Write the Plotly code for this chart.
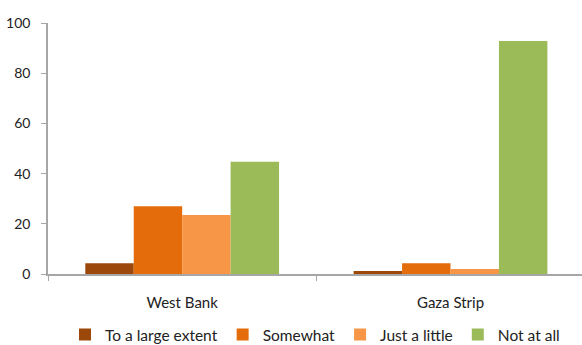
import plotly.graph_objects as go

categories = ["West Bank", "Gaza Strip"]
series_names = ["To a large extent", "Somewhat", "Just a little", "Not at all"]
large_extent = [4.3, 1.2]
somewhat = [27.0, 4.3]
just_a_little = [23.5, 2.0]
not_at_all = [44.7, 92.8]
colors = ["#9C480A", "#E46C0A", "#F79646", "#9BBB59"]
y_ticks = [0, 20, 40, 60, 80, 100]

font_family = "Lato, Open Sans, sans-serif"

fig = go.Figure()
for name, vals, col in zip(series_names, [large_extent, somewhat, just_a_little, not_at_all], colors):
    fig.add_trace(go.Bar(
        x=categories, y=vals, name=name,
        marker=dict(color=col, line=dict(width=0)),
    ))

fig.update_layout(
    width=582, height=345,
    margin=dict(l=48, r=0, t=23, b=71, autoexpand=False),
    barmode="group", bargap=0.278, bargroupgap=0,
    plot_bgcolor="white", paper_bgcolor="white",
    font=dict(family=font_family, size=14, color="#222222"),
    showlegend=True,
    legend=dict(orientation="h", x=0.5, xanchor="center", y=-0.175, yanchor="top",
                font=dict(size=15.5, color="#222222"), traceorder="normal",
                itemwidth=30),
)
fig.update_xaxes(
    range=[-0.5, 1.49], showline=True, linecolor="#A6A6A6", linewidth=1.5,
    ticks="outside", tickson="boundaries", ticklen=5, tickcolor="#A6A6A6",
    ticklabelstandoff=14, showgrid=False, zeroline=False,
    tickfont=dict(size=15),
)
fig.update_yaxes(
    range=[0, 100], tickvals=y_ticks, showline=True, linecolor="#A6A6A6", linewidth=1.5,
    ticks="outside", ticklen=5, tickcolor="#A6A6A6", showgrid=False, zeroline=False,
    ticklabelstandoff=8, tickfont=dict(size=14),
)

fig.write_html("out.html")
